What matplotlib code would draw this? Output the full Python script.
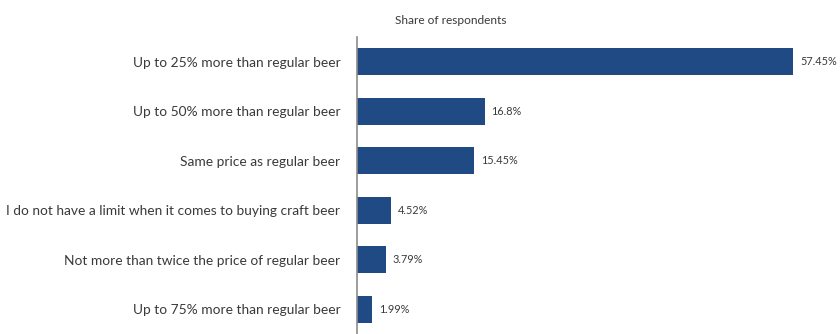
import numpy as np
import matplotlib.pyplot as plt

categories = ["Up to 25% more than regular beer",
              "Up to 50% more than regular beer",
              "Same price as regular beer",
              "I do not have a limit when it comes to buying craft beer",
              "Not more than twice the price of regular beer",
              "Up to 75% more than regular beer"]
values = [57.45, 16.8, 15.45, 4.52, 3.79, 1.99]
value_labels = ["57.45%", "16.8%", "15.45%", "4.52%", "3.79%", "1.99%"]

plt.rcParams['font.family'] = ['Lato', 'DejaVu Sans']
bar_color = "#1f4a84"
text_color = "#3a3a3a"

fig = plt.figure(figsize=(8.4, 3.34), dpi=100)
ax = fig.add_axes([357/840, 0, 483/840, 1 - 37/334])

y = np.arange(len(categories))
ax.barh(y, values, height=0.55, color=bar_color)
ax.set_ylim(len(categories) - 0.5, -0.5)
ax.set_xlim(0, 483/7.59)

for yi, v, lab in zip(y, values, value_labels):
    ax.text(v + 0.9, yi, lab, va="center", ha="left", fontsize=7.8, color=text_color)

ax.set_yticks(y)
ax.set_yticklabels(categories, fontsize=9.9, color=text_color)
ax.tick_params(axis="y", length=0, pad=12)
ax.set_xticks([])
for s in ["top", "right", "bottom"]:
    ax.spines[s].set_visible(False)
ax.spines["left"].set_color("#8c8c8c")
ax.spines["left"].set_linewidth(1.2)

fig.text(451/840, 1 - 20/334, "Share of respondents", ha="center", va="center",
         fontsize=8.6, color=text_color)

fig.savefig("out.png", dpi=100)
